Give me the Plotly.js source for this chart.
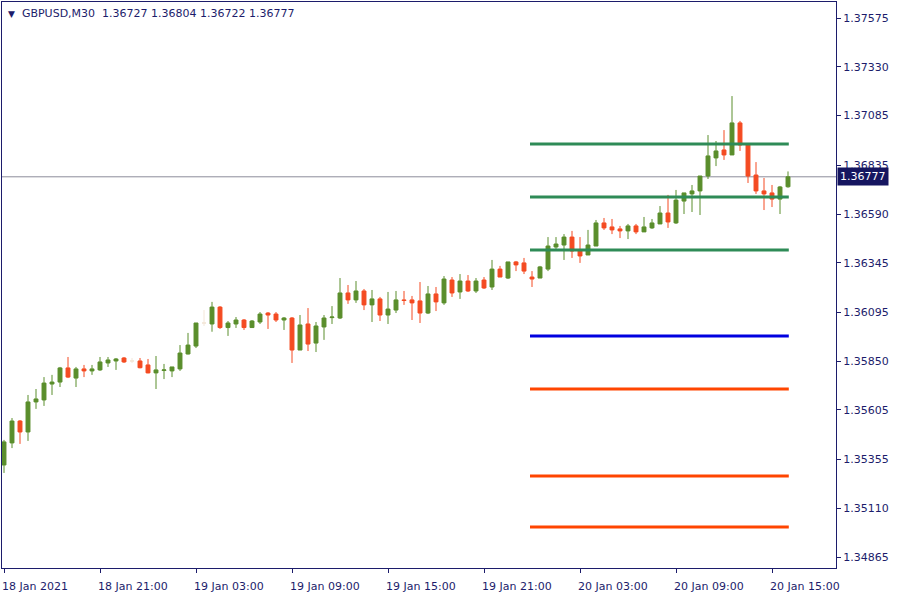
<!DOCTYPE html>
<html>
<head>
<meta charset="utf-8">
<script src="https://cdn.plot.ly/plotly-3.0.1.min.js"></script>
<style>html,body{margin:0;padding:0;background:#fff;}#chart{width:900px;height:600px;}</style>
</head>
<body>
<div id="chart"></div>
<script>
// GBPUSD M30 bars, starting 18 Jan 2021 15:00 (bar index 0)
const openPrices = [
1.35328,1.35439,1.35549,1.35494,1.35645,1.35655,1.35735,1.35745,1.35816,1.35765,
1.35811,1.35801,1.35806,1.35841,1.35851,1.35866,1.35851,1.35851,1.35831,1.35791,
1.35803,1.35801,1.35811,1.35886,1.35926,1.36042,1.36037,1.36122,1.36019,1.36037,
1.36057,1.36019,1.36047,1.36092,1.36087,1.36057,1.36067,1.35906,1.36037,1.35941,
1.36022,1.36069,1.36067,1.36193,1.36158,1.36203,1.36133,1.36163,1.36082,1.36107,
1.36158,1.36158,1.36153,1.36092,1.36188,1.36143,1.36258,1.36198,1.36253,1.36203,
1.36258,1.36223,1.36313,1.36268,1.36349,1.36344,1.36273,1.36268,1.36313,1.36424,
1.36434,1.36474,1.36409,1.36384,1.36429,1.36545,1.36525,1.36515,1.36505,1.36530,
1.36500,1.36520,1.36540,1.36595,1.36545,1.36655,1.36691,1.36706,1.36781,1.36872,
1.36912,1.36887,1.37048,1.36942,1.36786,1.36706,1.36696,1.36665,1.36727];
const highPrices = [
1.35454,1.35564,1.35554,1.35680,1.35710,1.35770,1.35781,1.35821,1.35871,1.35821,
1.35831,1.35831,1.35871,1.35871,1.35866,1.35871,1.35866,1.35866,1.35861,1.35876,
1.35836,1.35821,1.35931,1.35992,1.36042,1.36107,1.36148,1.36127,1.36052,1.36072,
1.36062,1.36057,1.36097,1.36097,1.36097,1.36072,1.36072,1.36082,1.36117,1.36047,
1.36082,1.36127,1.36268,1.36233,1.36253,1.36213,1.36208,1.36173,1.36198,1.36203,
1.36203,1.36178,1.36248,1.36228,1.36223,1.36278,1.36273,1.36288,1.36283,1.36268,
1.36273,1.36359,1.36329,1.36349,1.36354,1.36369,1.36303,1.36329,1.36474,1.36474,
1.36489,1.36505,1.36474,1.36510,1.36560,1.36570,1.36565,1.36530,1.36540,1.36540,
1.36575,1.36565,1.36630,1.36686,1.36711,1.36696,1.36736,1.36781,1.36987,1.36957,
1.37012,1.37183,1.37058,1.36942,1.36851,1.36771,1.36736,1.36731,1.36804];
const lowPrices = [
1.35288,1.35413,1.35434,1.35449,1.35610,1.35625,1.35680,1.35720,1.35765,1.35720,
1.35770,1.35781,1.35801,1.35821,1.35806,1.35841,1.35841,1.35814,1.35789,1.35710,
1.35760,1.35770,1.35801,1.35884,1.35916,1.36027,1.35998,1.36012,1.35977,1.36017,
1.36007,1.36017,1.36037,1.36012,1.36047,1.36007,1.35841,1.35906,1.35901,1.35896,
1.35957,1.36037,1.36062,1.36138,1.36143,1.36107,1.36047,1.36052,1.36037,1.36092,
1.36133,1.36057,1.36042,1.36087,1.36102,1.36133,1.36173,1.36163,1.36198,1.36193,
1.36213,1.36208,1.36273,1.36263,1.36303,1.36288,1.36223,1.36268,1.36303,1.36414,
1.36359,1.36369,1.36344,1.36384,1.36429,1.36510,1.36489,1.36469,1.36464,1.36489,
1.36500,1.36515,1.36540,1.36520,1.36540,1.36590,1.36600,1.36585,1.36766,1.36831,
1.36862,1.36887,1.36907,1.36746,1.36691,1.36610,1.36625,1.36590,1.36722];
const closePrices = [
1.35444,1.35549,1.35494,1.35645,1.35660,1.35740,1.35745,1.35816,1.35770,1.35811,
1.35801,1.35811,1.35846,1.35856,1.35861,1.35846,1.35851,1.35817,1.35791,1.35806,
1.35806,1.35821,1.35891,1.35931,1.36042,1.36042,1.36122,1.36019,1.36042,1.36057,
1.36019,1.36052,1.36087,1.36082,1.36057,1.36067,1.35906,1.36032,1.35936,1.36027,
1.36067,1.36072,1.36193,1.36158,1.36203,1.36133,1.36163,1.36082,1.36112,1.36158,
1.36155,1.36143,1.36092,1.36188,1.36148,1.36263,1.36193,1.36253,1.36203,1.36253,
1.36218,1.36313,1.36273,1.36349,1.36334,1.36303,1.36263,1.36324,1.36429,1.36439,
1.36474,1.36404,1.36379,1.36434,1.36545,1.36520,1.36510,1.36505,1.36530,1.36500,
1.36525,1.36545,1.36595,1.36550,1.36660,1.36696,1.36706,1.36781,1.36882,1.36907,
1.36887,1.37048,1.36937,1.36781,1.36706,1.36691,1.36665,1.36726,1.36777];

// Horizontal levels (price) drawn from bar levelStart to bar levelEnd
const greenLevels = [1.36942, 1.36675, 1.36409];
const blueLevels = [1.35976];
const redLevels = [1.35710, 1.35272, 1.35016];
const levelStart = 65.75;
const levelEnd = 98.1;

// Axis ticks
const xTickBars = [0, 12, 24, 36, 48, 60, 72, 84, 96];
const xTickLabels = ['18 Jan 2021','18 Jan 21:00','19 Jan 03:00','19 Jan 09:00','19 Jan 15:00','19 Jan 21:00','20 Jan 03:00','20 Jan 09:00','20 Jan 15:00'];
const yTickValues = [1.37575,1.37330,1.37085,1.36835,1.36590,1.36345,1.36095,1.35850,1.35605,1.35355,1.35110,1.34865];
const yTickLabels = ['1.37575','1.37330','1.37085','1.36835','1.36590','1.36345','1.36095','1.35850','1.35605','1.35355','1.35110','1.34865'];

const symbolTitle = 'GBPUSD,M30';

const NAVY = '#1c1c6b';
const UP = '#5a8e2c';
const DOWN = '#f44b22';

const idx = openPrices.map((_, i) => i);
const reg = idx.filter(i => openPrices[i] !== closePrices[i]);
const doj = idx.filter(i => openPrices[i] === closePrices[i]);
const pick = (arr, ids) => ids.map(i => arr[i]);

const traces = [
  {
    type: 'candlestick',
    x: reg, open: pick(openPrices, reg), high: pick(highPrices, reg),
    low: pick(lowPrices, reg), close: pick(closePrices, reg),
    increasing: {line: {color: UP, width: 1}, fillcolor: UP},
    decreasing: {line: {color: DOWN, width: 1}, fillcolor: DOWN},
    whiskerwidth: 0, showlegend: false, hoverinfo: 'skip'
  },
  {
    type: 'candlestick',
    x: doj, open: pick(openPrices, doj), high: pick(highPrices, doj),
    low: pick(lowPrices, doj), close: pick(closePrices, doj),
    increasing: {line: {color: '#f3e6d8', width: 1}, fillcolor: '#f3e6d8'},
    decreasing: {line: {color: '#f3e6d8', width: 1}, fillcolor: '#f3e6d8'},
    whiskerwidth: 0, showlegend: false, hoverinfo: 'skip'
  }
];
function addLevels(levels, color) {
  levels.forEach(v => traces.push({
    type: 'scatter', mode: 'lines', x: [levelStart, levelEnd], y: [v, v],
    line: {color: color, width: 3}, showlegend: false, hoverinfo: 'skip'
  }));
}
addLevels(greenLevels, '#2e8b57');
addLevels(blueLevels, '#0000e0');
addLevels(redLevels, '#ff4500');

const last = closePrices.length - 1;
const lastClose = closePrices[last];
const fmt = v => v.toFixed(5);

const layout = {
  width: 900, height: 600,
  margin: {l: 2, r: 64, t: 2, b: 32, pad: 0},
  paper_bgcolor: '#ffffff', plot_bgcolor: '#ffffff',
  font: {family: 'DejaVu Sans, sans-serif', size: 11, color: NAVY},
  showlegend: false,
  xaxis: {
    range: [-0.25, 104], tickmode: 'array', tickvals: xTickBars, ticktext: xTickLabels,
    ticks: 'outside', ticklen: 4, tickcolor: NAVY, tickwidth: 1,
    ticklabelposition: 'outside right', ticklabelstandoff: 8, ticklabelshift: -3,
    showline: true, mirror: true, linecolor: NAVY, linewidth: 1,
    showgrid: false, zeroline: false, rangeslider: {visible: false}, fixedrange: true,
    tickfont: {family: 'DejaVu Sans, sans-serif', size: 11, color: NAVY}
  },
  yaxis: {
    side: 'right', range: [1.34810, 1.37656], tickmode: 'array',
    tickvals: yTickValues, ticktext: yTickLabels,
    ticks: 'outside', ticklen: 4, tickcolor: NAVY, tickwidth: 1,
    showline: true, mirror: true, linecolor: NAVY, linewidth: 1,
    showgrid: false, zeroline: false, fixedrange: true,
    tickfont: {family: 'DejaVu Sans, sans-serif', size: 11, color: NAVY}
  },
  shapes: [
    {type: 'line', xref: 'paper', x0: 0, x1: 1, yref: 'y', y0: lastClose, y1: lastClose,
     line: {color: '#8c8c9a', width: 1}, layer: 'below'}
  ],
  annotations: [
    {xref: 'paper', yref: 'paper', x: 0, y: 1, xanchor: 'left', yanchor: 'top',
     xshift: 4, yshift: -3, showarrow: false, align: 'left',
     text: '<span style="font-size:9px">▼</span>\u00a0\u00a0' + symbolTitle + '\u00a0\u00a0' +
       fmt(openPrices[last]) + ' ' + fmt(highPrices[last]) + ' ' + fmt(lowPrices[last]) + ' ' + fmt(lastClose),
     font: {family: 'DejaVu Sans, sans-serif', size: 11, color: NAVY}},
    {xref: 'paper', yref: 'y', x: 1, y: lastClose, xanchor: 'left', yanchor: 'middle',
     xshift: 1, showarrow: false, text: fmt(lastClose), bgcolor: '#161660',
     borderpad: 2, font: {family: 'DejaVu Sans, sans-serif', size: 11, color: '#ffffff'}}
  ]
};

Plotly.newPlot('chart', traces, layout, {staticPlot: true, displayModeBar: false});
</script>
</body>
</html>
